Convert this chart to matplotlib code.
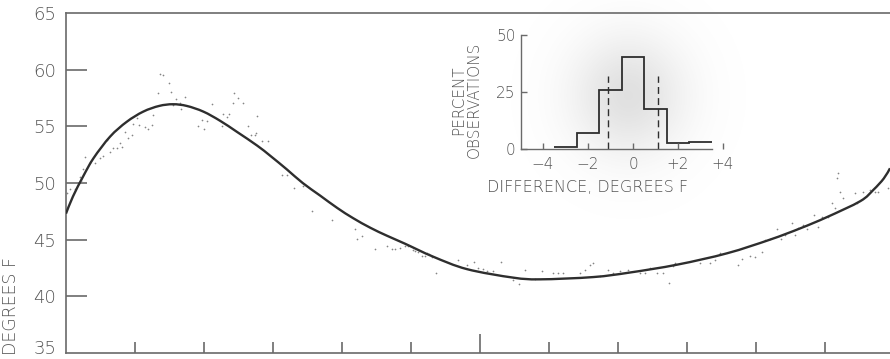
import numpy as np
import matplotlib
matplotlib.use("Agg")
import matplotlib.pyplot as plt
import matplotlib.transforms as mtransforms
from matplotlib.path import Path
from matplotlib.patches import PathPatch

plt.rcParams['font.family'] = ['DejaVu Sans']

# Fitted annual temperature curve (months from start, degrees F)
curve_month = [0.0, 0.1, 0.25, 0.4, 0.64, 0.88, 1.12, 1.35, 1.55, 1.75, 1.99,
               2.23, 2.48, 2.77, 2.96, 3.20, 3.43, 3.68, 3.93, 4.16, 4.41,
               4.65, 4.91, 5.32, 5.81, 6.48, 6.87, 7.64, 8.17, 8.86, 9.58,
               10.2, 10.64, 11.03, 11.51, 11.7, 11.85, 11.94]
curve_temp = [47.3, 48.8, 50.6, 52.2, 54.1, 55.4, 56.3, 56.8, 56.95, 56.8, 56.3,
              55.5, 54.5, 53.3, 52.4, 51.2, 50.0, 48.9, 47.8, 46.9, 46.05,
              45.35, 44.65, 43.5, 42.4, 41.65, 41.5, 41.7, 42.1, 42.8, 43.8,
              45.0, 46.0, 47.0, 48.4, 49.4, 50.4, 51.3]

# Daily observations
obs_month = [0.01, 0.06, 0.13, 0.20, 0.23, 0.25, 0.28, 0.35, 0.42, 0.49, 0.54,
             0.59, 0.64, 0.68, 0.74, 0.78, 0.81, 0.86, 0.90, 0.96, 0.97, 1.03,
             1.06, 1.14, 1.19, 1.25, 1.26, 1.33, 1.36, 1.41, 1.49, 1.52, 1.55,
             1.59, 1.65, 1.67, 1.72, 1.91, 1.97, 2.00, 2.04, 2.12, 2.26, 2.28,
             2.33, 2.36, 2.42, 2.43, 2.49, 2.56, 2.64, 2.68, 2.74, 2.75, 2.77,
             2.84, 2.93, 3.13, 3.20, 3.30, 3.43, 3.57, 3.86, 4.19, 4.22, 4.29,
             4.48, 4.65, 4.72, 4.77, 4.84, 4.91, 4.96, 5.03, 5.06, 5.10, 5.16,
             5.20, 5.23, 5.26, 5.30, 5.36, 5.68, 5.81, 5.91, 5.97, 6.04, 6.10,
             6.19, 6.30, 6.48, 6.57, 6.65, 6.80, 6.90, 7.06, 7.13, 7.20, 7.45,
             7.52, 7.59, 7.64, 7.74, 7.86, 7.93, 8.03, 8.14, 8.32, 8.39, 8.46,
             8.57, 8.65, 8.74, 8.80, 8.83, 9.19, 9.33, 9.41, 9.48, 9.74, 9.80,
             9.91, 9.99, 10.09, 10.13, 10.20, 10.30, 10.36, 10.42, 10.52, 10.57,
             10.61, 10.68, 10.74, 10.84, 10.90, 10.96, 11.04, 11.10, 11.14,
             11.17, 11.19, 11.22, 11.26, 11.43, 11.46, 11.55, 11.65, 11.72,
             11.77, 11.91]
obs_temp = [49.1, 49.5, 49.5, 50.5, 50.1, 51.2, 52.3, 51.8, 51.8, 52.2, 52.4,
            53.8, 52.7, 53.1, 53.1, 53.5, 53.2, 54.5, 54.0, 54.2, 55.2, 55.7,
            55.1, 54.9, 54.8, 55.1, 56.0, 57.9, 59.6, 59.5, 58.8, 58.0, 56.9,
            57.4, 57.1, 56.5, 57.6, 55.0, 55.6, 54.8, 55.5, 57.0, 55.0, 56.1,
            55.8, 56.1, 57.1, 57.9, 57.5, 57.1, 55.0, 54.2, 54.2, 54.4, 55.9,
            53.7, 53.7, 50.7, 50.7, 49.6, 49.7, 47.5, 46.7, 45.9, 45.1, 45.3,
            44.2, 44.4, 44.2, 44.2, 44.3, 44.4, 44.4, 44.1, 44.0, 43.9, 43.6,
            43.6, 43.8, 43.7, 43.5, 42.1, 43.2, 42.8, 43.0, 42.5, 42.4, 42.2,
            42.2, 43.0, 41.4, 41.1, 42.3, 41.5, 42.2, 42.1, 42.1, 42.1, 42.1,
            42.3, 42.8, 42.9, 41.8, 42.3, 42.1, 42.2, 42.3, 42.1, 42.1, 42.5,
            42.1, 42.1, 41.2, 42.7, 42.9, 42.9, 42.9, 43.2, 43.8, 42.8, 43.3,
            43.6, 43.5, 43.9, 45.0, 45.1, 45.9, 45.1, 45.4, 46.5, 45.4,
            46.0, 46.3, 45.9, 47.2, 46.1, 47.0, 47.0, 48.2, 47.8,
            50.4, 50.9, 49.2, 48.7, 49.1, 48.2, 49.2, 49.4, 49.2,
            49.2, 49.6]

month_ticks = [1, 2, 3, 4, 5, 6, 7, 8, 9, 10, 11]
temp_ticks = [35, 40, 45, 50, 55, 60, 65]

# Histogram of differences (observed minus fitted)
diff_bins = [-3, -2, -1, 0, 1, 2, 3]
diff_pct = [0.8, 7, 26, 40.5, 17.5, 2.5, 3.2]
sd_lines = [-1.1, 1.1]
sd_height = 32
diff_ticks = [-4, -2, 0, 2, 4]
diff_labels = ['\u22124', '\u22122', '0', '+2', '+4']
pct_ticks = [0, 25, 50]


def smooth_path(xs, ys):
    """Catmull-Rom curve through the points, as cubic Bezier segments."""
    p = np.column_stack([xs, ys]).astype(float)
    ext = np.vstack([p[0], p, p[-1]])
    verts = [p[0]]
    codes = [Path.MOVETO]
    for i in range(1, len(ext) - 2):
        c1 = ext[i] + (ext[i + 1] - ext[i - 1]) / 6.0
        c2 = ext[i + 1] - (ext[i + 2] - ext[i]) / 6.0
        verts += [c1, c2, ext[i + 1]]
        codes += [Path.CURVE4] * 3
    return Path(verts, codes)


W, H = 890, 359
fig = plt.figure(figsize=(W / 100, H / 100), dpi=100)
fig.patch.set_facecolor('white')

ink = '#2e2e2e'
spine_c = '#6a6a6a'
text_c = '#555555'
light = dict(fontweight='light')

# Soft grey haze behind the inset histogram
bg = fig.add_axes([0, 0, 1, 1], zorder=0)
bg.set_xlim(0, W)
bg.set_ylim(H, 0)
bg.axis('off')
yy, xx = np.mgrid[0:H, 0:W]
haze = np.exp(-(((xx - 628) / 40.0) ** 2 + ((yy - 95) / 42.0) ** 2) / 2)
rgba = np.zeros((H, W, 4))
rgba[..., :3] = 0.6
rgba[..., 3] = 0.30 * haze
bg.imshow(rgba, extent=[0, W, H, 0], interpolation='bilinear', aspect='auto')

# Main panel
ax = fig.add_axes([66 / W, 1 - 353 / H, 1 - 66 / W, 340 / H], zorder=1)
ax.set_facecolor('none')
ax.set_xlim(0, 11.94)
ax.set_ylim(35, 65)
ax.scatter(obs_month, obs_temp, s=1.5, color='#858585', linewidths=0, zorder=2)
ax.add_patch(PathPatch(smooth_path(curve_month, curve_temp), fill=False,
                       edgecolor=ink, lw=1.7, capstyle='butt', zorder=3))

for s in ['left', 'bottom', 'top']:
    ax.spines[s].set_color(spine_c)
    ax.spines[s].set_linewidth(1.2)
ax.spines['right'].set_visible(False)

ax.set_xticks(month_ticks)
ax.set_xticklabels([])
ax.tick_params(axis='x', direction='in', length=8, width=1.2, color=spine_c)
for tk in ax.xaxis.get_major_ticks():
    if tk.get_loc() == 6:
        tk.tick1line.set_markersize(14)
ax.set_yticks(temp_ticks)
ax.tick_params(axis='y', direction='in', length=15, width=1.2, color=spine_c,
               labelsize=13, labelcolor=text_c, pad=7)
for lab in ax.get_yticklabels():
    lab.set_fontweight('light')
for tk in ax.yaxis.get_major_ticks():
    if tk.get_loc() in (35, 65):
        tk.tick1line.set_markersize(0)
    if tk.get_loc() == 35:
        # lift the bottom label so it stays inside the canvas
        tk.label1.set_transform(tk.label1.get_transform() +
                                mtransforms.ScaledTranslation(0, 6 / 100, fig.dpi_scale_trans))

fig.text(11 / W, 4 / H, 'DEGREES F', rotation=90, ha='center', va='bottom',
         fontsize=12.5, color=text_c, **light)

# Inset histogram
x0, x1 = -5, 4.5
px_per = 22.5
left_px = 633 + x0 * px_per
ins = fig.add_axes([left_px / W, 1 - 149 / H, (x1 - x0) * px_per / W, 114 / H], zorder=2)
ins.set_facecolor('none')
ins.set_xlim(x0, x1)
ins.set_ylim(0, 50)
centers = np.array(diff_bins, dtype=float)
edges = np.concatenate([centers - 0.5, [centers[-1] + 0.5]])
ins.stairs(diff_pct, edges, color=ink, lw=1.3, baseline=None)
ins.vlines(sd_lines, 0, sd_height, colors=ink, linestyles=(0, (5, 3)), lw=1.0)
for s in ['top', 'right']:
    ins.spines[s].set_visible(False)
for s in ['left', 'bottom']:
    ins.spines[s].set_color(spine_c)
    ins.spines[s].set_linewidth(1.0)
ins.spines['bottom'].set_bounds(x0, edges[-1])
ins.set_xticks(diff_ticks)
ins.set_xticklabels(diff_labels)
ins.set_yticks(pct_ticks)
ins.tick_params(direction='in', length=4, width=1.0, color=spine_c,
                labelsize=11, labelcolor=text_c)
ins.tick_params(axis='x', pad=6)
for lab in ins.get_xticklabels() + ins.get_yticklabels():
    lab.set_fontweight('light')

fig.text(588 / W, 1 - 187 / H, 'DIFFERENCE, DEGREES F', ha='center', va='center',
         fontsize=11.5, color=text_c, **light)
fig.text(466 / W, 1 - 100 / H, 'PERCENT\nOBSERVATIONS', rotation=90,
         ha='center', va='center', multialignment='center', linespacing=1.05,
         fontsize=11, color=text_c, **light)

fig.savefig('out.png', dpi=100)
